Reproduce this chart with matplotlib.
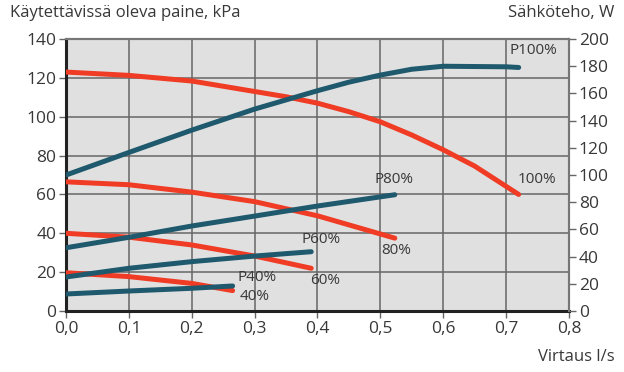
import matplotlib.pyplot as plt
from matplotlib.ticker import FuncFormatter

plt.rcParams['font.family'] = ['Open Sans', 'DejaVu Sans']

# pressure curves (kPa, left axis)
q100 = [0.0, 0.1, 0.2, 0.3, 0.35, 0.4, 0.45, 0.5, 0.55, 0.6, 0.65, 0.72]
p100 = [123, 121.3, 118.4, 113, 110.3, 107, 102.6, 97.4, 90.6, 83, 74.6, 60]
q80 = [0.0, 0.1, 0.2, 0.3, 0.4, 0.523]
p80 = [66.5, 65, 61.2, 56.3, 49, 37.5]
q60 = [0.0, 0.1, 0.2, 0.3, 0.39]
p60 = [40, 38, 34, 28.3, 22]
q40 = [0.0, 0.1, 0.2, 0.265]
p40 = [19.7, 17.7, 14.2, 10.5]

# electrical power curves (W, right axis)
wq100 = [0.0, 0.1, 0.2, 0.3, 0.4, 0.45, 0.5, 0.55, 0.6, 0.7, 0.72]
w100 = [100, 116.6, 133, 148.5, 162, 168.3, 173.5, 177.8, 180, 179.6, 179.1]
wq80 = [0.0, 0.1, 0.2, 0.3, 0.4, 0.523]
w80 = [46.5, 54.2, 62.5, 69.8, 77.2, 85.5]
wq60 = [0.0, 0.1, 0.2, 0.3, 0.39]
w60 = [25, 31.4, 36.3, 40.4, 43.6]
wq40 = [0.0, 0.1, 0.2, 0.265]
w40 = [12.5, 14.7, 16.7, 18.4]

red = '#f03c24'
blue = '#1f596d'
txt = '#383838'

fig = plt.figure(figsize=(6.24, 3.72), dpi=100)
ax = fig.add_axes([0.1058, 0.164, 0.806, 0.731])
ax.set_facecolor('#e0e0e0')
ax2 = ax.twinx()

lw = 3.6
for x, y in [(q100, p100), (q80, p80), (q60, p60), (q40, p40)]:
    ax.plot(x, y, color=red, lw=lw, solid_capstyle='round', solid_joinstyle='round', zorder=3)
for x, y in [(wq100, w100), (wq80, w80), (wq60, w60), (wq40, w40)]:
    ax2.plot(x, y, color=blue, lw=lw, solid_capstyle='round', solid_joinstyle='round', zorder=3)

ax.set_xlim(0, 0.8)
ax.set_ylim(0, 140)
ax2.set_ylim(0, 200)
ax.set_xticks([i / 10 for i in range(9)])
ax.set_yticks(range(0, 141, 20))
ax2.set_yticks(range(0, 201, 20))
ax.xaxis.set_major_formatter(FuncFormatter(lambda v, p: f'{v:.1f}'.replace('.', ',')))
ax.grid(True, color='#666666', lw=1.1)
ax.set_axisbelow(True)

for a in (ax, ax2):
    a.tick_params(labelsize=12.5, colors='#666666', labelcolor=txt, length=5, width=1, pad=2)
    for s in a.spines.values():
        s.set_color('#777777')
        s.set_linewidth(1.5)
ax.spines['left'].set_color('#222222')
ax.spines['left'].set_linewidth(2.2)
ax.spines['bottom'].set_color('#222222')
ax.spines['bottom'].set_linewidth(2.2)
ax2.spines['left'].set_visible(False)
ax2.spines['bottom'].set_visible(False)

lab = dict(fontsize=11, color=txt, zorder=4)
ax.text(0.705, 132.5, 'P100%', **lab)
ax.text(0.718, 66, '100%', **lab)
ax.text(0.49, 66, 'P80%', **lab)
ax.text(0.502, 29.5, '80%', **lab)
ax.text(0.375, 35, 'P60%', **lab)
ax.text(0.388, 14, '60%', **lab)
ax.text(0.272, 15.5, 'P40%', **lab)
ax.text(0.276, 5.5, '40%', **lab)

fig.text(0.016, 0.965, 'Käytettävissä oleva paine, kPa', fontsize=12, color=txt, va='center')
fig.text(0.985, 0.965, 'Sähköteho, W', fontsize=12, color=txt, va='center', ha='right')
fig.text(0.985, 0.04, 'Virtaus l/s', fontsize=12, color=txt, va='center', ha='right')

fig.savefig('out.png', dpi=100)
